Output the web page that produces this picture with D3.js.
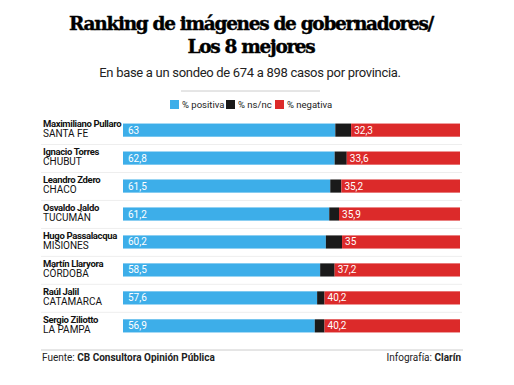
<!DOCTYPE html>
<meta charset="utf-8">
<script src="https://d3js.org/d3.v7.min.js"></script>
<style>
body { margin: 0; background: #fff; }
text { font-family: "Liberation Sans Narrow", "Roboto", sans-serif; }
</style>
<div id="chart"></div>
<script>

// data
var names = ["Maximiliano Pullaro", "Ignacio Torres", "Leandro Zdero", "Osvaldo Jaldo",
             "Hugo Passalacqua", "Martín Llaryora", "Raúl Jalil", "Sergio Ziliotto"];
var provinces = ["SANTA FE", "CHUBUT", "CHACO", "TUCUMÁN", "MISIONES", "CÓRDOBA", "CATAMARCA", "LA PAMPA"];
var positiva = [63, 62.8, 61.5, 61.2, 60.2, 58.5, 57.6, 56.9];
var negativa = [32.3, 33.6, 35.2, 35.9, 35, 37.2, 40.2, 40.2];
var keys = ["% positiva", "% ns/nc", "% negativa"];
var colors = ["#3daee9", "#1a1a1a", "#dc2a2a"];

var W = 514, H = 385;
var svg = d3.select("#chart").append("svg").attr("width", W).attr("height", H);

var rows = names.map(function(n, i) {
  return {name: n, prov: provinces[i], pos: positiva[i], neg: negativa[i],
          ns: +(100 - positiva[i] - negativa[i]).toFixed(1)};
});

var x = d3.scaleLinear().domain([0, 100]).range([123, 460]);
var y = d3.scaleBand().domain(names).range([116, 340]).paddingInner(0.53).paddingOuter(0.27);

var fmt = function(v) { return String(v).replace(".", ","); };

// title
svg.append("text").attr("x", 251).attr("y", 30).attr("text-anchor", "middle")
  .style("font-family", "'DejaVu Serif', serif").style("font-weight", "bold")
  .style("font-size", "18.5px").style("letter-spacing", "-1.3px")
  .style("stroke", "#000").style("stroke-width", "0.4px")
  .text("Ranking de imágenes de gobernadores/");
svg.append("text").attr("x", 251).attr("y", 53).attr("text-anchor", "middle")
  .style("font-family", "'DejaVu Serif', serif").style("font-weight", "bold")
  .style("font-size", "18.5px").style("letter-spacing", "-1.3px")
  .style("stroke", "#000").style("stroke-width", "0.4px")
  .text("Los 8 mejores");
svg.append("text").attr("x", 250).attr("y", 77).attr("text-anchor", "middle")
  .style("font-size", "13px").style("letter-spacing", "-0.3px").style("fill", "#222")
  .text("En base a un sondeo de 674 a 898 casos por provincia.");
svg.append("line").attr("x1", 181).attr("x2", 320).attr("y1", 91).attr("y2", 91)
  .style("stroke", "#ccc");

// legend
var legX = [170, 226, 275];
var leg = svg.selectAll(".leg").data(keys).enter().append("g")
  .attr("transform", function(d, i) { return "translate(" + legX[i] + ",100)"; });
leg.append("rect").attr("width", 9).attr("height", 9).style("fill", function(d, i) { return colors[i]; });
leg.append("text").attr("x", 12).attr("y", 8).style("font-size", "9.5px").style("fill", "#222")
  .text(function(d) { return d; });

// row separators
svg.selectAll(".sep").data(names.slice(1)).enter().append("line")
  .attr("x1", 41).attr("x2", 462)
  .attr("y1", function(d) { return y(d) - 7; }).attr("y2", function(d) { return y(d) - 7; })
  .style("stroke", "#eee");
svg.append("line").attr("x1", 41).attr("x2", 463).attr("y1", 350).attr("y2", 350).style("stroke", "#ccc");

// bars
var g = svg.selectAll(".row").data(rows).enter().append("g");
g.append("rect").attr("x", x(0)).attr("y", function(d) { return y(d.name); })
  .attr("width", function(d) { return x(d.pos) - x(0); }).attr("height", y.bandwidth())
  .style("fill", colors[0]);
g.append("rect").attr("x", function(d) { return x(d.pos); }).attr("y", function(d) { return y(d.name); })
  .attr("width", function(d) { return x(d.pos + d.ns) - x(d.pos); }).attr("height", y.bandwidth())
  .style("fill", colors[1]);
g.append("rect").attr("x", function(d) { return x(d.pos + d.ns); }).attr("y", function(d) { return y(d.name); })
  .attr("width", function(d) { return x(100) - x(d.pos + d.ns); }).attr("height", y.bandwidth())
  .style("fill", colors[2]);

g.append("text").attr("x", x(0) + 5).attr("y", function(d) { return y(d.name) + y.bandwidth() / 2 + 3.5; })
  .style("fill", "#fff").style("font-size", "10px").text(function(d) { return fmt(d.pos); });
g.append("text").attr("x", function(d) { return x(d.pos + d.ns) + 3; })
  .attr("y", function(d) { return y(d.name) + y.bandwidth() / 2 + 3.5; })
  .style("fill", "#fff").style("font-size", "10px").text(function(d) { return fmt(d.neg); });

// labels
g.append("text").attr("x", 43).attr("y", function(d) { return y(d.name) + 3.5; })
  .style("font-weight", "bold").style("font-size", "9.5px").style("fill", "#111")
  .style("letter-spacing", "-0.35px")
  .text(function(d) { return d.name; });
g.append("text").attr("x", 43).attr("y", function(d) { return y(d.name) + 13.5; })
  .style("font-size", "10px").style("fill", "#111")
  .text(function(d) { return d.prov; });

// footer
var f = svg.append("text").attr("x", 42).attr("y", 361).style("font-size", "10px").style("fill", "#222");
f.append("tspan").text("Fuente: ");
f.append("tspan").style("font-weight", "bold").text("CB Consultora Opinión Pública");
var f2 = svg.append("text").attr("x", 461).attr("y", 361).attr("text-anchor", "end")
  .style("font-size", "10px").style("fill", "#222");
f2.append("tspan").text("Infografía: ");
f2.append("tspan").style("font-weight", "bold").text("Clarín");

</script>
